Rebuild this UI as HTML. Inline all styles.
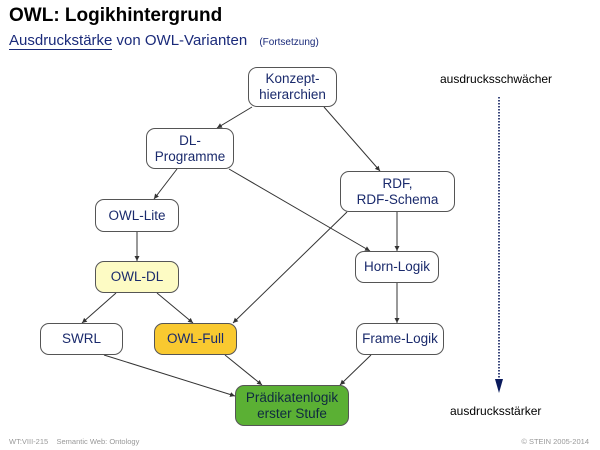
<!DOCTYPE html>
<html><head><meta charset="utf-8"><style>
body{margin:0;width:600px;height:450px;background:#fff;overflow:hidden;font-family:"Liberation Sans",sans-serif;position:relative}
.t1{position:absolute;left:9px;top:5px;font-size:19px;font-weight:bold;color:#000}
.t2{position:absolute;left:9px;top:32px;font-size:15px;color:#1a2a7a}
.t2 u{text-decoration:none;border-bottom:1px solid #1a2a7a}
.t2 small{font-size:10px;margin-left:8px}
.n{position:absolute;box-sizing:border-box;border:1px solid #555;border-radius:9px;display:flex;align-items:center;justify-content:center;text-align:center;font-size:13.5px;line-height:16px;color:#1a2a6c;background:#fff}
.f{position:absolute;top:437px;font-size:7.5px;color:#999}
.s{position:absolute;font-size:12px;color:#000}
</style></head><body>
<div class="t1">OWL: Logikhintergrund</div>
<div class="t2"><u>Ausdruckstärke</u> von OWL-Varianten <small>(Fortsetzung)</small></div>
<svg width="600" height="450" style="position:absolute;left:0;top:0">
<defs><marker id="a" markerWidth="6" markerHeight="6" refX="5" refY="3" orient="auto"><path d="M0,0.5 L5,3 L0,5.5z" fill="#333"/></marker>
<marker id="b" markerWidth="4" markerHeight="6" refX="3" refY="3" orient="auto"><path d="M0,0 L4,3 L0,6z" fill="#0a1a5c"/></marker></defs>
<g stroke="#333" stroke-width="1" marker-end="url(#a)">
<line x1="252" y1="107" x2="217" y2="128"/>
<line x1="324" y1="107" x2="380" y2="171"/>
<line x1="177" y1="169" x2="154" y2="199"/>
<line x1="229" y1="169" x2="370" y2="251"/>
<line x1="137" y1="232" x2="137" y2="261"/>
<line x1="347" y1="212" x2="233" y2="323"/>
<line x1="397" y1="212" x2="397" y2="251"/>
<line x1="116" y1="293" x2="82" y2="323"/>
<line x1="157" y1="293" x2="193" y2="323"/>
<line x1="397" y1="283" x2="397" y2="323"/>
<line x1="104" y1="355" x2="235" y2="396"/>
<line x1="225" y1="355" x2="262" y2="385"/>
<line x1="371" y1="355" x2="340" y2="385"/>
</g>
<line x1="499" y1="97" x2="499" y2="385" stroke="#0a1a5c" stroke-width="1.6" stroke-dasharray="1.5,1.5"/>
<path d="M495,379 L503,379 L499,393z" fill="#0a1a5c"/>
</svg>
<div class="n" style="left:248px;top:67px;width:89px;height:40px">Konzept-<br>hierarchien</div>
<div class="n" style="left:146px;top:128px;width:88px;height:41px">DL-<br>Programme</div>
<div class="n" style="left:340px;top:171px;width:115px;height:41px">RDF,<br>RDF-Schema</div>
<div class="n" style="left:95px;top:199px;width:84px;height:33px">OWL-Lite</div>
<div class="n" style="left:355px;top:251px;width:84px;height:32px">Horn-Logik</div>
<div class="n" style="left:95px;top:261px;width:84px;height:32px;background:#fdfbc4">OWL-DL</div>
<div class="n" style="left:40px;top:323px;width:83px;height:32px">SWRL</div>
<div class="n" style="left:154px;top:323px;width:83px;height:32px;background:#f9c930">OWL-Full</div>
<div class="n" style="left:356px;top:323px;width:88px;height:32px">Frame-Logik</div>
<div class="n" style="left:235px;top:385px;width:114px;height:41px;background:#5bb034;color:#0f2a40">Prädikatenlogik<br>erster Stufe</div>
<div class="s" style="left:440px;top:72px">ausdrucksschwächer</div>
<div class="s" style="left:450px;top:404px">ausdrucksstärker</div>
<div class="f" style="left:9px">WT:VIII-215 &nbsp;&nbsp; Semantic Web: Ontology</div>
<div class="f" style="right:11px">© STEIN 2005-2014</div>
</body></html>
